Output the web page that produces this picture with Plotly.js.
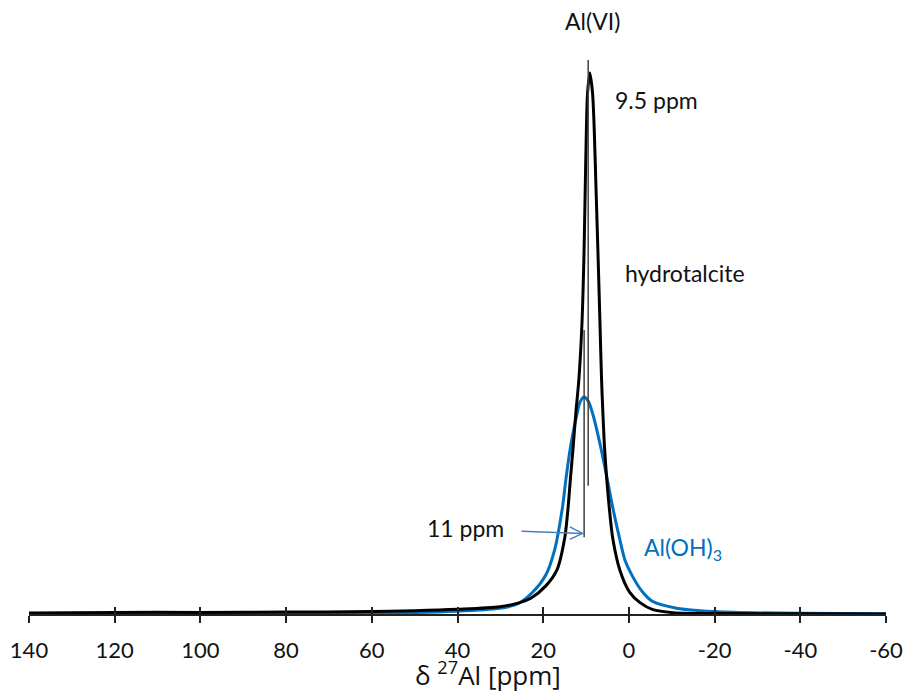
<!DOCTYPE html>
<html>
<head>
<meta charset="utf-8">
<script src="https://cdn.plot.ly/plotly-3.0.1.min.js"></script>
<style>html,body{margin:0;padding:0;background:#fff;}#chart{width:905px;height:692px;}</style>
</head>
<body>
<div id="chart"></div>
<script>
// chemical shift (ppm) and normalised intensity
var hydrotalcitePpm = [140, 120, 100, 80, 60, 50, 40, 30.1, 25.47, 22.9, 19.39, 16.82, 14.95, 14.18, 13.67, 13.01, 12.38, 11.68, 10.98, 10.51, 10.21, 9.91, 9.65, 9.11, 8.48, 8.11, 7.64, 7.17, 6.73, 6.38, 6.07, 5.70, 5.16, 4.60, 3.81, 2.10, -0.2, -2.6, -5.6, -10.3, -21.3, -40, -60];
var hydrotalciteInt = [0.2, 0.3, 0.3, 0.35, 0.45, 0.6, 0.87, 1.35, 2.1, 2.9, 5.2, 8.1, 14.2, 19.8, 24.8, 30.9, 37.2, 43.3, 53.2, 65.4, 77.8, 90.0, 96.3, 100, 96.3, 90.0, 77.8, 65.4, 53.2, 43.3, 37.2, 30.9, 24.8, 19.8, 14.2, 8.1, 4.0, 2.1, 0.8, 0.25, 0.1, 0.05, 0];

var aloh3Ppm = [140, 100, 60, 40.26, 30.14, 26.0, 22.36, 19.39, 17.29, 15.49, 14.72, 13.62, 12.08, 11.33, 10.44, 9.46, 8.48, 6.59, 5.02, 3.80, 2.10, 0.93, -0.82, -3.15, -5.37, -11.14, -16.59, -24.3, -40, -60];
var aloh3Int = [0.1, 0.12, 0.15, 0.5, 1.05, 1.85, 4.1, 7.2, 12.0, 19.8, 24.8, 30.9, 37.1, 39.3, 40.1, 39.3, 37.1, 30.9, 24.8, 19.8, 13.7, 10.0, 7.0, 4.1, 2.4, 1.05, 0.6, 0.31, 0.13, 0.05];

var tickValues = [140, 120, 100, 80, 60, 40, 20, 0, -20, -40, -60];
var tickLabels = ['140', '120', '100', '80', '60', '40', '20', '0', '-20', '-40', '-60'];

var markerPpm = [9.5, 10.45];          // peak position markers
var markerLabels = ['9.5 ppm', '11 ppm'];
var seriesLabels = ['hydrotalcite', 'Al(OH)<sub>3</sub>'];

var fam = 'Lato, "Open Sans", sans-serif';
var txtFont = {family: fam, size: 23, color: '#111111'};

var traces = [
  {x: aloh3Ppm, y: aloh3Int, type: 'scatter', mode: 'lines', name: 'Al(OH)3',
   line: {color: '#0070C0', width: 3, shape: 'spline', smoothing: 0.8}, hoverinfo: 'skip'},
  {x: hydrotalcitePpm, y: hydrotalciteInt, type: 'scatter', mode: 'lines', name: 'hydrotalcite',
   line: {color: '#000000', width: 3, shape: 'spline', smoothing: 0.8}, hoverinfo: 'skip'},
  {x: [], y: [], xaxis: 'x2', yaxis: 'y', type: 'scatter', mode: 'lines', showlegend: false, hoverinfo: 'skip'}
];

var layout = {
  width: 905, height: 692,
  margin: {l: 29, r: 19, t: 40, b: 78},
  paper_bgcolor: '#ffffff', plot_bgcolor: '#ffffff',
  showlegend: false,
  font: txtFont,
  xaxis: {
    range: [140, -60], tickvals: tickValues, ticktext: tickLabels,
    ticks: 'outside', ticklen: 7, tickwidth: 2, tickcolor: '#222222',
    showline: true, linecolor: '#222222', linewidth: 2,
    showgrid: false, zeroline: false,
    tickfont: {family: fam, size: 22, color: '#111111'},
    ticklabelstandoff: 9,
    automargin: false
  },
  xaxis2: {
    range: [140, -60], overlaying: 'x', anchor: 'y', side: 'bottom',
    tickvals: tickValues, showticklabels: false,
    ticks: 'inside', ticklen: 7, tickwidth: 2, tickcolor: '#222222',
    showline: false, showgrid: false, zeroline: false
  },
  yaxis: {range: [0, 106.1], visible: false, showgrid: false, zeroline: false, fixedrange: true},
  shapes: [
    {type: 'line', xref: 'x', yref: 'y', x0: markerPpm[0], x1: markerPpm[0], y0: 23.7, y1: 102.4,
     line: {color: '#404040', width: 1.5}},
    {type: 'line', xref: 'x', yref: 'y', x0: markerPpm[1], x1: markerPpm[1], y0: 14.2, y1: 52.5,
     line: {color: '#404040', width: 1.5}},
    {type: 'line', xref: 'x', yref: 'y', x0: 25.07, x1: 10.82, y0: 15.3, y1: 14.9,
     line: {color: '#4a7ebb', width: 1.5}},
    {type: 'line', xref: 'x', yref: 'y', x0: 13.79, x1: 10.82, y0: 16.1, y1: 14.9,
     line: {color: '#4a7ebb', width: 1.5}},
    {type: 'line', xref: 'x', yref: 'y', x0: 13.79, x1: 10.82, y0: 13.8, y1: 14.9,
     line: {color: '#4a7ebb', width: 1.5}}
  ],
  annotations: [
    {text: 'Al(VI)', x: 8.4, y: 1.033, xref: 'x', yref: 'paper', yanchor: 'middle', showarrow: false, font: txtFont},
    {text: markerLabels[0], x: -6.5, y: 95.0, xref: 'x', yref: 'y', showarrow: false, font: txtFont},
    {text: seriesLabels[0], x: -13.1, y: 63.0, xref: 'x', yref: 'y', showarrow: false, font: txtFont},
    {text: markerLabels[1], x: 38.1, y: 15.9, xref: 'x', yref: 'y', showarrow: false, font: txtFont},
    {text: seriesLabels[1], x: -3.0, y: 12.2, xref: 'x', yref: 'y', xanchor: 'left', showarrow: false,
     font: {family: fam, size: 23, color: '#0070C0'}},
    {text: 'δ <sup>27</sup>Al [ppm]', x: 0.5356, y: -0.105, xref: 'paper', yref: 'paper',
     xanchor: 'center', yanchor: 'middle', showarrow: false,
     font: {family: '"Open Sans", "Liberation Sans", sans-serif', size: 26, color: '#111111'}}
  ]
};

Plotly.newPlot('chart', traces, layout, {staticPlot: true, displayModeBar: false});
</script>
</body>
</html>
